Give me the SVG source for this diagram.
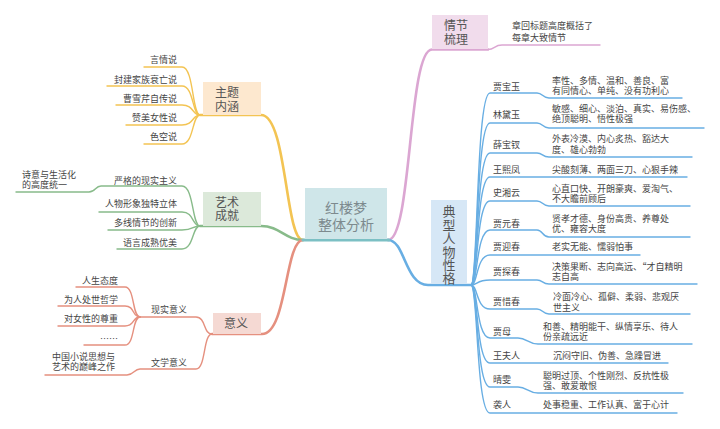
<svg xmlns="http://www.w3.org/2000/svg" width="720" height="429" viewBox="0 0 720 429">
<style>
text{font-family:"Noto Sans CJK SC","Noto Sans",sans-serif;fill:#444;}
.leaf{font-size:9px;}
.nd{font-size:12px;fill:#555;}
.end{text-anchor:end;}
.c{fill:none;stroke-linecap:round;stroke-linejoin:round;}
.y{stroke:#f3c453;}
.g{stroke:#88bb8a;}
.s{stroke:#e5907f;}
.p{stroke:#dba6d2;}
.b{stroke:#68aee3;}
.main{stroke-width:2.6;}
.sub{stroke-width:1.4;}
</style>
<rect width="720" height="429" fill="#ffffff"/>
<g id="connectors">
<path class="c y main" d="M303 240 C285 240,287 115,261 115 L200 115"/>
<path class="c g main" d="M303 240 C285 240,280 226,261 226 L200 226"/>
<path class="c s main" d="M303 240 C285 240,287 334,262 334 L212 334"/>
<path class="c p main" d="M388 240 C412 240,408 49.5,432 49.5 L488 49.5"/>
<path class="c p sub" d="M488 49.5 C495 49.5,494 45,502 45 L600 45"/>
<path class="c b main" d="M388 240 C405 240,405 285,428 285 L471 285"/>
<path class="c" stroke="#7cc0c4" stroke-width="3" d="M303 240 L389 240"/>
<path class="c y sub" d="M200 115 C192 115,194 67,182 67 L144 67"/>
<path class="c y sub" d="M200 115 C192 115,194 86,182 86 L107 86"/>
<path class="c y sub" d="M200 115 C192 115,194 105,182 105 L116 105"/>
<path class="c y sub" d="M200 115 C192 115,194 125,182 125 L126 125"/>
<path class="c y sub" d="M200 115 C192 115,194 144,182 144 L144 144"/>
<path class="c g sub" d="M200 226 C192 226,194 186,182 186 L101 186 C95 186,96 192,89 192 L16 192"/>
<path class="c g sub" d="M200 226 C192 226,194 212,182 212 L99 212"/>
<path class="c g sub" d="M200 226 C192 226,194 230,182 230 L108 230"/>
<path class="c g sub" d="M200 226 C192 226,194 249,182 249 L117 249"/>
<path class="c s sub" d="M212 334 C203 334,206 317,196 317 L140 317"/>
<path class="c s sub" d="M212 334 C203 334,206 369,196 369 L140 369 C134 369,134 375,127 375 L45 375"/>
<path class="c s sub" d="M140 317 C132 317,135 287,125 287 L76 287"/>
<path class="c s sub" d="M140 317 C132 317,135 306,125 306 L58 306"/>
<path class="c s sub" d="M140 317 C132 317,135 326,125 326 L58 326"/>
<path class="c s sub" d="M140 317 C132 317,135 345,125 345 L84 345"/>
<path class="c b sub" d="M471 285 C478 285,476 93,490 93 L537 93 C543 93,542 98,549 98 L682 98"/>
<path class="c b sub" d="M471 285 C478 285,476 123,490 123 L537 123 C543 123,542 128,549 128 L704 128"/>
<path class="c b sub" d="M471 285 C478 285,476 153,490 153 L537 153 C543 153,542 157,549 157 L692 157"/>
<path class="c b sub" d="M471 285 C478 285,476 177,490 177 L687 177"/>
<path class="c b sub" d="M471 285 C478 285,476 201,490 201 L537 201 C543 201,542 206,549 206 L690 206"/>
<path class="c b sub" d="M471 285 C478 285,476 230,490 230 L537 230 C543 230,542 237,549 237 L690 237"/>
<path class="c b sub" d="M471 285 C478 285,476 255,490 255 L640 255"/>
<path class="c b sub" d="M471 285 C478 285,476 280,490 280 L537 280 C543 280,542 284,549 284 L697 284"/>
<path class="c b sub" d="M471 285 C478 285,476 309,490 309 L537 309 C543 309,542 314,549 314 L690 314"/>
<path class="c b sub" d="M471 285 C478 285,476 338,490 338 L518 338 C527 338,528 344,538 344 L692 344"/>
<path class="c b sub" d="M471 285 C478 285,476 363,490 363 L668 363"/>
<path class="c b sub" d="M471 285 C478 285,476 387,490 387 L518 387 C527 387,528 393,538 393 L683 393"/>
<path class="c b sub" d="M471 285 C478 285,476 413,490 413 L677 413"/>
</g>
<g id="center">
<rect x="305" y="188" width="82" height="51" fill="#cfe6e9"/>
<text x="346" y="213" text-anchor="middle" font-size="14" style="fill:#7d8a8e">红楼梦<tspan x="346" dy="17">整体分析</tspan></text>
</g>
<g id="theme">
<rect x="203" y="82" width="58" height="33" fill="#fde8cf"/>
<text class="nd" x="215" y="97">主题<tspan x="215" dy="14">内涵</tspan></text>
<text class="leaf end" x="177" y="63">言情说</text>
<text class="leaf end" x="177" y="83">封建家族衰亡说</text>
<text class="leaf end" x="177" y="102">曹雪芹自传说</text>
<text class="leaf end" x="177" y="121">赞美女性说</text>
<text class="leaf end" x="177" y="140">色空说</text>
</g>
<g id="art">
<rect x="203" y="192" width="58" height="34" fill="#dce9da"/>
<text class="nd" x="215" y="207">艺术<tspan x="215" dy="13">成就</tspan></text>
<text class="leaf end" x="177" y="184">严格的现实主义</text>
<text class="leaf" x="22" y="178">诗意与生活化<tspan x="22" dy="10">的高度统一</tspan></text>
<text class="leaf end" x="177" y="207">人物形象独特立体</text>
<text class="leaf end" x="177" y="226">多线情节的创新</text>
<text class="leaf end" x="177" y="246">语言成熟优美</text>
</g>
<g id="meaning">
<rect x="213" y="313" width="48" height="21" fill="#f5d9d3"/>
<text class="nd" x="236" y="328" text-anchor="middle">意义</text>
<text class="leaf" x="151" y="313">现实意义</text>
<text class="leaf end" x="118" y="284">人生态度</text>
<text class="leaf end" x="118" y="303">为人处世哲学</text>
<text class="leaf end" x="118" y="322">对女性的尊重</text>
<text class="leaf end" x="118" y="342">……</text>
<text class="leaf" x="151" y="366">文学意义</text>
<text class="leaf" x="52" y="360">中国小说思想与<tspan x="52" dy="10">艺术的巅峰之作</tspan></text>
</g>
<g id="plot">
<rect x="432" y="15" width="56" height="34" fill="#f1dcec"/>
<text class="nd" x="444" y="30">情节<tspan x="444" dy="14">梳理</tspan></text>
<text class="leaf" x="512" y="29">章回标题高度概括了<tspan x="512" dy="12">每章大致情节</tspan></text>
</g>
<g id="characters">
<rect x="431" y="200" width="36" height="84" fill="#d6e7f6"/>
<text x="449" y="205" font-size="13" style="fill:#555;writing-mode:vertical-rl;letter-spacing:0.4px">典型人物性格</text>
</g>
<g id="c1"><text class="leaf" x="493" y="90">贾宝玉</text><text class="leaf" x="552" y="84">率性、多情、温和、善良、富<tspan x="552" dy="10">有同情心、单纯、没有功利心</tspan></text></g>
<g id="c2"><text class="leaf" x="493" y="118">林黛玉</text><text class="leaf" x="552" y="112">敏感、细心、淡泊、真实、易伤感、<tspan x="552" dy="10">绝顶聪明、悟性极强</tspan></text></g>
<g id="c3"><text class="leaf" x="493" y="148">薛宝钗</text><text class="leaf" x="552" y="142">外表冷漠、内心炙热、豁达大<tspan x="552" dy="11">度、雄心勃勃</tspan></text></g>
<g id="c4"><text class="leaf" x="493" y="173">王熙凤</text><text class="leaf" x="552" y="173">尖酸刻薄、两面三刀、心狠手辣</text></g>
<g id="c5"><text class="leaf" x="493" y="196">史湘云</text><text class="leaf" x="552" y="192">心直口快、开朗豪爽、爱淘气、<tspan x="552" dy="10">不大瞻前顾后</tspan></text></g>
<g id="c6"><text class="leaf" x="493" y="227">贾元春</text><text class="leaf" x="552" y="222">贤孝才德、身份高贵、养尊处<tspan x="552" dy="10">优、雍容大度</tspan></text></g>
<g id="c7"><text class="leaf" x="493" y="250">贾迎春</text><text class="leaf" x="552" y="250">老实无能、懦弱怕事</text></g>
<g id="c8"><text class="leaf" x="493" y="275">贾探春</text><text class="leaf" x="552" y="270">决策果断、志向高远、“才自精明<tspan x="552" dy="10">志自高</tspan></text></g>
<g id="c9"><text class="leaf" x="493" y="305">贾惜春</text><text class="leaf" x="553" y="300">冷面冷心、孤僻、柔弱、悲观厌<tspan x="553" dy="11">世主义</tspan></text></g>
<g id="c10"><text class="leaf" x="493" y="335">贾母</text><text class="leaf" x="543" y="330">和善、精明能干、纵情享乐、待人<tspan x="543" dy="10">份亲疏远近</tspan></text></g>
<g id="c11"><text class="leaf" x="493" y="359">王夫人</text><text class="leaf" x="553" y="359">沉闷守旧、伪善、急躁冒进</text></g>
<g id="c12"><text class="leaf" x="493" y="383">晴雯</text><text class="leaf" x="543" y="379">聪明过顶、个性刚烈、反抗性极<tspan x="543" dy="10">强、敢爱敢恨</tspan></text></g>
<g id="c13"><text class="leaf" x="493" y="408">袭人</text><text class="leaf" x="543" y="408">处事稳重、工作认真、富于心计</text></g>
</svg>
